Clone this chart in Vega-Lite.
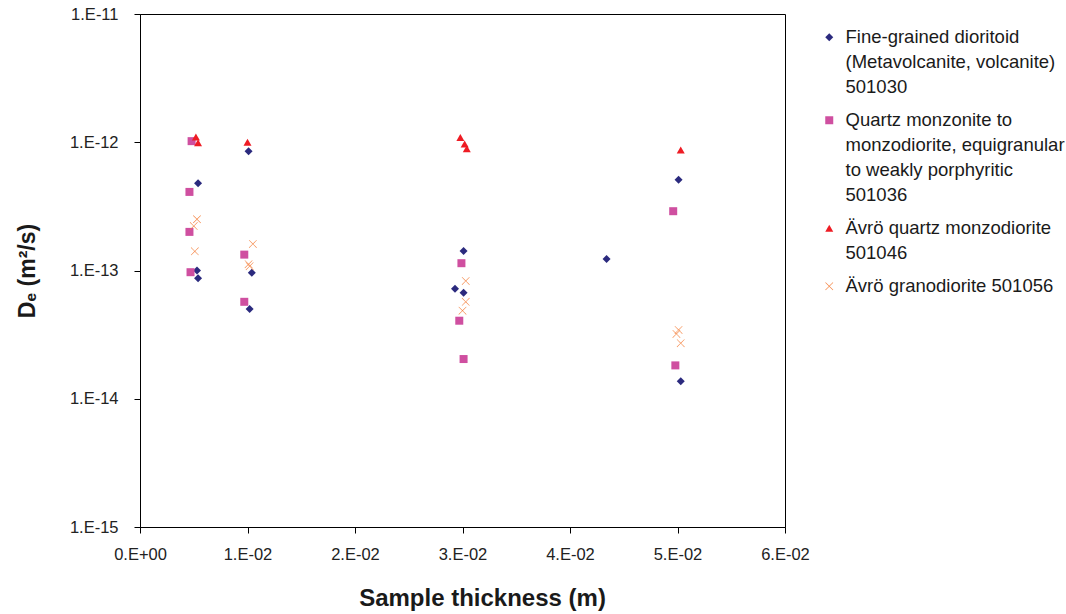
{
  "$schema": "https://vega.github.io/schema/vega-lite/v6.json",
  "width": 645,
  "height": 513,
  "autosize": {"type": "none"},
  "padding": {"left": 140, "top": 14, "right": 281, "bottom": 87},
  "background": "white",
  "config": {
    "font": "Liberation Sans",
    "view": {"stroke": "black", "strokeWidth": 1},
    "style": {"guide-label": {"lineHeight": 25}},
    "axis": {"grid": false, "domainColor": "black", "tickColor": "black", "tickSize": 6, "labelFontSize": 16.5, "labelColor": "#222222", "titleFontSize": 24, "titleFontWeight": "bold", "titleColor": "#1a1a1a"}
  },
  "data": {"values": [
    {"s": "Fine-grained dioritoid\n(Metavolcanite, volcanite)\n501030", "x": 0.0054, "De": 4.8e-13},
    {"s": "Fine-grained dioritoid\n(Metavolcanite, volcanite)\n501030", "x": 0.0053, "De": 1.0e-13},
    {"s": "Fine-grained dioritoid\n(Metavolcanite, volcanite)\n501030", "x": 0.0054, "De": 8.7e-14},
    {"s": "Fine-grained dioritoid\n(Metavolcanite, volcanite)\n501030", "x": 0.0101, "De": 8.5e-13},
    {"s": "Fine-grained dioritoid\n(Metavolcanite, volcanite)\n501030", "x": 0.0104, "De": 9.6e-14},
    {"s": "Fine-grained dioritoid\n(Metavolcanite, volcanite)\n501030", "x": 0.0102, "De": 5.0e-14},
    {"s": "Fine-grained dioritoid\n(Metavolcanite, volcanite)\n501030", "x": 0.0301, "De": 1.42e-13},
    {"s": "Fine-grained dioritoid\n(Metavolcanite, volcanite)\n501030", "x": 0.0293, "De": 7.2e-14},
    {"s": "Fine-grained dioritoid\n(Metavolcanite, volcanite)\n501030", "x": 0.0301, "De": 6.7e-14},
    {"s": "Fine-grained dioritoid\n(Metavolcanite, volcanite)\n501030", "x": 0.0434, "De": 1.23e-13},
    {"s": "Fine-grained dioritoid\n(Metavolcanite, volcanite)\n501030", "x": 0.0501, "De": 5.1e-13},
    {"s": "Fine-grained dioritoid\n(Metavolcanite, volcanite)\n501030", "x": 0.0503, "De": 1.37e-14},
    {"s": "Quartz monzonite to\nmonzodiorite, equigranular\nto weakly porphyritic\n501036", "x": 0.0048, "De": 1.02e-12},
    {"s": "Quartz monzonite to\nmonzodiorite, equigranular\nto weakly porphyritic\n501036", "x": 0.0046, "De": 4.1e-13},
    {"s": "Quartz monzonite to\nmonzodiorite, equigranular\nto weakly porphyritic\n501036", "x": 0.0046, "De": 2.0e-13},
    {"s": "Quartz monzonite to\nmonzodiorite, equigranular\nto weakly porphyritic\n501036", "x": 0.0047, "De": 9.7e-14},
    {"s": "Quartz monzonite to\nmonzodiorite, equigranular\nto weakly porphyritic\n501036", "x": 0.0097, "De": 1.33e-13},
    {"s": "Quartz monzonite to\nmonzodiorite, equigranular\nto weakly porphyritic\n501036", "x": 0.0097, "De": 5.7e-14},
    {"s": "Quartz monzonite to\nmonzodiorite, equigranular\nto weakly porphyritic\n501036", "x": 0.0299, "De": 1.14e-13},
    {"s": "Quartz monzonite to\nmonzodiorite, equigranular\nto weakly porphyritic\n501036", "x": 0.0297, "De": 4.06e-14},
    {"s": "Quartz monzonite to\nmonzodiorite, equigranular\nto weakly porphyritic\n501036", "x": 0.0301, "De": 2.04e-14},
    {"s": "Quartz monzonite to\nmonzodiorite, equigranular\nto weakly porphyritic\n501036", "x": 0.0496, "De": 2.9e-13},
    {"s": "Quartz monzonite to\nmonzodiorite, equigranular\nto weakly porphyritic\n501036", "x": 0.0498, "De": 1.82e-14},
    {"s": "Ävrö quartz monzodiorite\n501046", "x": 0.0052, "De": 1.10e-12},
    {"s": "Ävrö quartz monzodiorite\n501046", "x": 0.0054, "De": 9.9e-13},
    {"s": "Ävrö quartz monzodiorite\n501046", "x": 0.0100, "De": 1.0e-12},
    {"s": "Ävrö quartz monzodiorite\n501046", "x": 0.0298, "De": 1.09e-12},
    {"s": "Ävrö quartz monzodiorite\n501046", "x": 0.0302, "De": 9.7e-13},
    {"s": "Ävrö quartz monzodiorite\n501046", "x": 0.0304, "De": 8.9e-13},
    {"s": "Ävrö quartz monzodiorite\n501046", "x": 0.0503, "De": 8.7e-13},
    {"s": "Ävrö granodiorite 501056", "x": 0.0053, "De": 2.51e-13},
    {"s": "Ävrö granodiorite 501056", "x": 0.0050, "De": 2.22e-13},
    {"s": "Ävrö granodiorite 501056", "x": 0.0051, "De": 1.41e-13},
    {"s": "Ävrö granodiorite 501056", "x": 0.0105, "De": 1.61e-13},
    {"s": "Ävrö granodiorite 501056", "x": 0.0101, "De": 1.12e-13},
    {"s": "Ävrö granodiorite 501056", "x": 0.0102, "De": 1.08e-13},
    {"s": "Ävrö granodiorite 501056", "x": 0.0303, "De": 8.3e-14},
    {"s": "Ävrö granodiorite 501056", "x": 0.0303, "De": 5.7e-14},
    {"s": "Ävrö granodiorite 501056", "x": 0.0300, "De": 4.86e-14},
    {"s": "Ävrö granodiorite 501056", "x": 0.0501, "De": 3.44e-14},
    {"s": "Ävrö granodiorite 501056", "x": 0.0499, "De": 3.2e-14},
    {"s": "Ävrö granodiorite 501056", "x": 0.0503, "De": 2.71e-14}
  ]},
  "mark": {"type": "point", "filled": true, "opacity": 1, "size": 64},
  "encoding": {
    "x": {"field": "x", "type": "quantitative",
      "scale": {"domain": [0, 0.06], "nice": false, "zero": false},
      "axis": {"values": [0, 0.01, 0.02, 0.03, 0.04, 0.05, 0.06], "labelExpr": "datum.value == 0 ? '0.E+00' : format(datum.value*100, 'd') + '.E-02'", "title": "Sample thickness (m)", "labelPadding": 13, "titlePadding": 24, "titleX": 342, "titleAlign": "center", "labelFlush": false}},
    "y": {"field": "De", "type": "quantitative",
      "scale": {"type": "log", "domain": [1e-15, 1e-11], "nice": false},
      "axis": {"values": [1e-15, 1e-14, 1e-13, 1e-12, 1e-11], "labelExpr": "'1.E' + round(log(datum.value)/LN10)", "title": "Dₑ (m²/s)", "titleFontSize": 23, "labelPadding": 16, "titlePadding": 30, "labelFlush": false}},
    "color": {"field": "s", "type": "nominal",
      "scale": {"domain": ["Fine-grained dioritoid\n(Metavolcanite, volcanite)\n501030", "Quartz monzonite to\nmonzodiorite, equigranular\nto weakly porphyritic\n501036", "Ävrö quartz monzodiorite\n501046", "Ävrö granodiorite 501056"],
        "range": ["#2b2a7e", "#cf4fa0", "#ee1c24", "#f47f3b"]},
      "legend": {"title": null, "orient": "none", "legendX": 680, "legendY": 14, "labelFontSize": 18.5, "labelColor": "#1a1a1a", "labelLimit": 400, "labelExpr": "split(datum.label, '\\n')", "rowPadding": 14, "symbolSize": 55, "labelOffset": 7}},
    "shape": {"field": "s", "type": "nominal",
      "scale": {"domain": ["Fine-grained dioritoid\n(Metavolcanite, volcanite)\n501030", "Quartz monzonite to\nmonzodiorite, equigranular\nto weakly porphyritic\n501036", "Ävrö quartz monzodiorite\n501046", "Ävrö granodiorite 501056"],
        "range": ["diamond", "square", "triangle-up", "M-1,-0.9L-0.9,-1L0,-0.1L0.9,-1L1,-0.9L0.1,0L1,0.9L0.9,1L0,0.1L-0.9,1L-1,0.9L-0.1,0Z"]}},
    "size": {"field": "s", "type": "nominal",
      "scale": {"domain": ["Fine-grained dioritoid\n(Metavolcanite, volcanite)\n501030", "Quartz monzonite to\nmonzodiorite, equigranular\nto weakly porphyritic\n501036", "Ävrö quartz monzodiorite\n501046", "Ävrö granodiorite 501056"],
        "range": [64, 64, 90, 121]}, "legend": null}
  }
}
